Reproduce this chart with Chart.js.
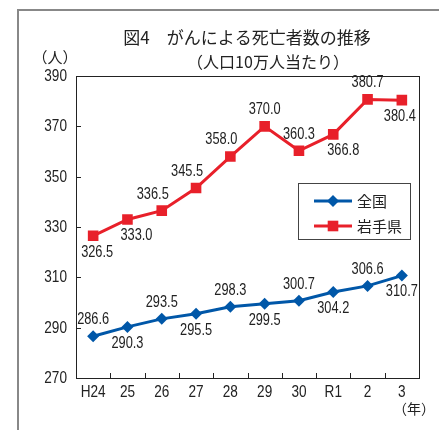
<!DOCTYPE html>
<html>
<head>
<meta charset="utf-8">
<script src="https://cdn.jsdelivr.net/npm/chart.js@4"></script>
<style>
  html, body { margin: 0; padding: 0; background: #fff; }
  #wrap { width: 439px; height: 430px; position: relative; }
</style>
</head>
<body>
<div id="wrap"><canvas id="chart-cancer"></canvas></div>
<script>
const years = ['H24', '25', '26', '27', '28', '29', '30', 'R1', '2', '3'];
const national = [286.6, 290.3, 293.5, 295.5, 298.3, 299.5, 300.7, 304.2, 306.6, 310.7];
const iwate = [326.5, 333.0, 336.5, 345.5, 358.0, 370.0, 360.3, 366.8, 380.7, 380.4];
const seriesNames = ['全国', '岩手県'];

// label placement: -1 above, 1 below; dx nudges
const nationalSide = [-1, 1, -1, 1, -1, 1, -1, 1, -1, 1];
const iwateSide = [1, 1, -1, -1, -1, -1, -1, 1, -1, 1];
const iwateDx = [4, 9, -9, -9, -9, 0, 0, 10, 0, -2];

const BLUE = '#0057A8';
const RED = '#E8202A';
const FONT = '"Liberation Sans", "Noto Sans CJK JP", sans-serif';
const JFONT = '"Noto Sans CJK JP", sans-serif';

// the source uses a tall narrow gothic for numbers, so squeeze horizontally
function narrowText(ctx, text, x, y, size, align) {
    ctx.save();
    ctx.translate(x, y);
    ctx.scale(0.8, 1);
    ctx.font = size + 'px ' + FONT;
    ctx.textAlign = align;
    ctx.textBaseline = 'middle';
    ctx.fillText(text, 0, 0);
    ctx.restore();
}

const decor = {
    id: 'decor',
    afterDraw(chart) {
        const ctx = chart.ctx;
        const area = chart.chartArea;
        const x = chart.scales.x;
        const y = chart.scales.y;
        ctx.save();

        // outer frame
        ctx.strokeStyle = '#888';
        ctx.lineWidth = 2;
        ctx.strokeRect(18, 10, 460, 460);

        // plot box
        ctx.strokeStyle = '#222';
        ctx.lineWidth = 1;
        ctx.strokeRect(Math.round(area.left) + 0.5, Math.round(area.top) + 0.5,
            Math.round(area.right - area.left), Math.round(area.bottom - area.top));

        ctx.fillStyle = '#222';
        // y ticks (inside) + labels
        y.ticks.forEach(t => {
            const py = Math.round(y.getPixelForValue(t.value)) + 0.5;
            ctx.beginPath();
            ctx.moveTo(area.left, py);
            ctx.lineTo(area.left + 5, py);
            ctx.stroke();
            narrowText(ctx, String(t.value), area.left - 9, py, 17, 'right');
        });
        // x ticks (inside, between categories) + labels
        for (let i = 1; i < years.length; i++) {
            const px = Math.round((x.getPixelForValue(i - 1) + x.getPixelForValue(i)) / 2) + 0.5;
            ctx.beginPath();
            ctx.moveTo(px, area.bottom);
            ctx.lineTo(px, area.bottom - 5);
            ctx.stroke();
        }
        years.forEach((lab, i) => {
            narrowText(ctx, lab, x.getPixelForValue(i), area.bottom + 14, 17, 'center');
        });

        // titles
        ctx.textAlign = 'center';
        ctx.textBaseline = 'middle';
        ctx.font = '17px ' + JFONT;
        ctx.fillText('図4　がんによる死亡者数の推移', 247, 38);
        ctx.font = '16px ' + JFONT;
        ctx.fillText('（人口10万人当たり）', 268, 62);
        ctx.font = '15px ' + JFONT;
        ctx.fillText('（人）', 55, 57);
        ctx.font = '14px ' + JFONT;
        ctx.fillText('（年）', 414, 409);

        // data labels
        const drawLabels = (meta, values, side, dx) => {
            meta.data.forEach((pt, i) => {
                narrowText(ctx, values[i].toFixed(1), pt.x + (dx ? dx[i] : 0), pt.y + side[i] * 16.5, 16, 'center');
            });
        };
        drawLabels(chart.getDatasetMeta(0), national, nationalSide, null);
        drawLabels(chart.getDatasetMeta(1), iwate, iwateSide, iwateDx);

        // legend
        ctx.strokeStyle = '#444';
        ctx.lineWidth = 1;
        ctx.strokeRect(298.5, 183.5, 112, 56);
        const items = [[BLUE, 'rectRot', 6], [RED, 'rect', 7.5]];
        items.forEach((it, i) => {
            const ly = 201 + i * 25;
            ctx.strokeStyle = it[0];
            ctx.fillStyle = it[0];
            ctx.lineWidth = 3;
            ctx.beginPath();
            ctx.moveTo(314, ly);
            ctx.lineTo(352, ly);
            ctx.stroke();
            Chart.helpers.drawPoint(ctx, { pointStyle: it[1], radius: it[2], borderWidth: 0 }, 333, ly);
            ctx.fillStyle = '#222';
            ctx.textAlign = 'left';
            ctx.font = '15px ' + JFONT;
            ctx.fillText(seriesNames[i], 357, ly);
        });

        ctx.restore();
    }
};

new Chart(document.getElementById('chart-cancer'), {
    type: 'line',
    data: {
        labels: years,
        datasets: [{
            label: seriesNames[0],
            data: national,
            borderColor: BLUE,
            backgroundColor: BLUE,
            borderWidth: 3,
            pointStyle: 'rectRot',
            pointRadius: 6,
            pointBorderWidth: 0,
            tension: 0,
        }, {
            label: seriesNames[1],
            data: iwate,
            borderColor: RED,
            backgroundColor: RED,
            borderWidth: 3,
            pointStyle: 'rect',
            pointRadius: 7.5,
            pointBorderWidth: 0,
            tension: 0,
        }]
    },
    options: {
        responsive: true,
        maintainAspectRatio: false,
        animation: false,
        layout: { padding: { top: 76, right: 20, bottom: 0, left: 0 } },
        scales: {
            x: {
                offset: true,
                grid: { display: false, drawTicks: false },
                border: { display: false },
                ticks: { display: false },
                afterFit(scale) { scale.height = 52; }
            },
            y: {
                min: 270,
                max: 390,
                grid: { display: false, drawTicks: false },
                border: { display: false },
                ticks: { display: false, stepSize: 20 },
                afterFit(scale) { scale.width = 76; }
            }
        },
        plugins: {
            legend: { display: false },
            tooltip: { enabled: false }
        }
    },
    plugins: [decor]
});
</script>
</body>
</html>
